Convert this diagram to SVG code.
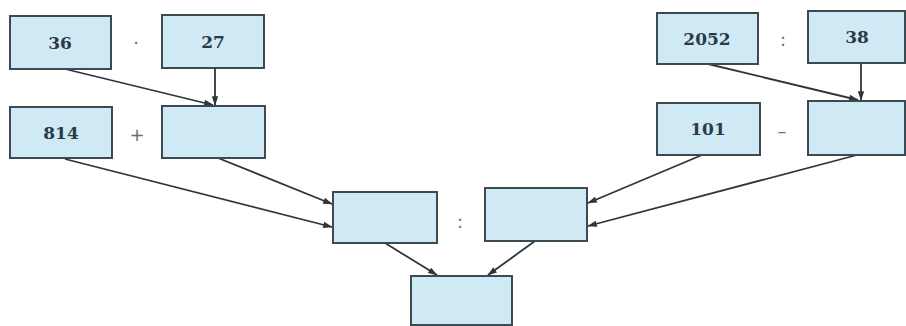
<svg xmlns="http://www.w3.org/2000/svg" width="906" height="326" viewBox="0 0 906 326">
<defs>
<style>
.box{fill:#cfeaf5;stroke:#3c4a52;stroke-width:2}
.num{font-family:"DejaVu Serif",serif;font-weight:bold;font-size:17px;fill:#2c3a48;text-anchor:middle;dominant-baseline:central}
.op{font-family:"DejaVu Sans",sans-serif;font-size:18px;fill:#667077;text-anchor:middle;dominant-baseline:central}
.conn{stroke:#2e363b;stroke-width:1.8;fill:none;marker-end:url(#ah)}
</style>
<marker id="ah" viewBox="0 0 12 10" refX="11" refY="5" markerWidth="12" markerHeight="8" orient="auto" markerUnits="userSpaceOnUse">
<path d="M0,1 L12,5 L0,9 z" fill="#2e363b"/>
</marker>
</defs>
<rect width="906" height="326" fill="#ffffff"/>
<g id="connectors">
<line class="conn" x1="65" y1="69" x2="213" y2="105"/>
<line class="conn" x1="215" y1="68" x2="215" y2="105"/>
<line class="conn" x1="65" y1="159" x2="332" y2="227"/>
<line class="conn" x1="218" y1="158" x2="332" y2="204"/>
<line class="conn" x1="708" y1="64" x2="858" y2="100"/>
<line class="conn" x1="861" y1="63" x2="861" y2="100"/>
<line class="conn" x1="702" y1="155" x2="588" y2="203"/>
<line class="conn" x1="857" y1="155" x2="588" y2="226"/>
<line class="conn" x1="385" y1="243" x2="437" y2="275"/>
<line class="conn" x1="535" y1="241" x2="488" y2="275"/>
</g>
<g id="n36"><rect class="box" x="10" y="16" width="101" height="53"/><text class="num" x="60" y="43">36</text></g>
<g id="op1"><text class="op" x="136" y="42">·</text></g>
<g id="n27"><rect class="box" x="162" y="15" width="102" height="53"/><text class="num" x="213" y="42">27</text></g>
<g id="n814"><rect class="box" x="10" y="107" width="102" height="51"/><text class="num" x="61" y="133">814</text></g>
<g id="op2"><text class="op" x="137" y="134">+</text></g>
<g id="nprod"><rect class="box" x="162" y="106" width="103" height="52"/></g>
<g id="n2052"><rect class="box" x="657" y="13" width="101" height="51"/><text class="num" x="707" y="39">2052</text></g>
<g id="op3"><text class="op" x="783" y="39">:</text></g>
<g id="n38"><rect class="box" x="808" y="11" width="97" height="52"/><text class="num" x="857" y="37">38</text></g>
<g id="n101"><rect class="box" x="657" y="103" width="103" height="52"/><text class="num" x="708" y="129">101</text></g>
<g id="op4"><text class="op" x="782" y="130">–</text></g>
<g id="nquot"><rect class="box" x="808" y="101" width="97" height="54"/></g>
<g id="nsum"><rect class="box" x="333" y="192" width="104" height="51"/></g>
<g id="op5"><text class="op" x="460" y="221">:</text></g>
<g id="ndiff"><rect class="box" x="485" y="188" width="102" height="53"/></g>
<g id="nresult"><rect class="box" x="411" y="276" width="101" height="49"/></g>
</svg>
